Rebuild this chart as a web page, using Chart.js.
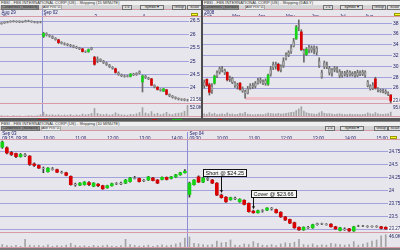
<!DOCTYPE html>
<html>
<head>
<meta charset="utf-8">
<script src="https://cdn.jsdelivr.net/npm/chart.js@4.4.0/dist/chart.umd.min.js"></script>
<style>
html, body { margin: 0; padding: 0; width: 400px; height: 250px; overflow: hidden; background: #e6e6ec; font-family: "Liberation Sans", Arial, sans-serif; }
.panel { position: absolute; background: #e6e6ec; overflow: hidden; }
.title { position: absolute; left: 0; right: 0; top: 0; height: 4px; background: #efefef; border-top: 1px solid #8a8a8a; font-size: 4px; line-height: 4px; color: #303030; padding-left: 1px; white-space: nowrap; }
.tools { position: absolute; left: 0; right: 0; top: 5px; height: 4px; background: #d4d4d6; border-bottom: 1px solid #d49aa4; }
.btn { position: absolute; top: 0; height: 3px; border: 0.5px solid #707070; background: #dedede; font-size: 3.5px; line-height: 3px; color: #202020; text-align: center; white-space: nowrap; overflow: hidden; }
.btn.dark { background: #959595; }
.btn.flat { background: #ececec; border-color: #a8a8a8; }
canvas { position: absolute; left: 0; }
.strip { position: absolute; left: 0; width: 400px; background: #575757; }
.mark { position: absolute; top: 1px; height: 1px; }
</style>
</head>
<body>

<div class="panel" style="left:0;top:0;width:201px;height:118px">
  <div class="title">FBSI - FBS INTERNATIONAL CORP (US) - Shipping (15 MINUTE)</div>
  <div class="tools">
    <span class="btn dark" style="left:1px;width:36px">Candlestick (Standard)</span>
    <span class="btn flat" style="left:42px;width:18px">Ave Pcs: 0.86</span>
    <span class="btn" style="left:122px;width:8px">1:4</span>
    <span class="btn" style="left:140px;width:22px">Symbol &#9662;</span>
    <span class="btn" style="left:172px;width:12px">Group</span>
    <span class="btn" style="left:187px;width:13px">Scale</span>
  </div>
  <canvas id="cLeft" width="201" height="113" style="top:4px"></canvas>
</div>

<div style="position:absolute;left:201px;top:0;width:2px;height:121px;background:#4c4c4c"></div>

<div class="panel" style="left:203px;top:0;width:197px;height:118px">
  <div class="title">FBSI - FBS INTERNATIONAL CORP (US) - Shipping (DAILY)</div>
  <div class="tools">
    <span class="btn dark" style="left:0px;width:34px">Candlestick (Standard)</span>
    <span class="btn flat" style="left:42px;width:18px">Ave Pcs: 0.86</span>
    <span class="btn" style="left:120px;width:8px">1:4</span>
    <span class="btn" style="left:137px;width:21px">Symbol &#9662;</span>
    <span class="btn" style="left:169px;width:12px">Group</span>
    <span class="btn" style="left:184px;width:13px">Scale</span>
  </div>
  <canvas id="cRight" width="197" height="113" style="top:4px"></canvas>
</div>

<div class="strip" style="top:118px;height:3px">
  <span class="mark" style="left:38px;width:10px;background:#b02020"></span>
  <span class="mark" style="left:152px;width:5px;background:#b02020"></span>
  <span class="mark" style="left:172px;width:10px;background:#20b020"></span>
  <span class="mark" style="left:218px;width:4px;background:#b02020"></span>
</div>

<div class="panel" style="left:0;top:121px;width:400px;height:129px">
  <div class="title">FBSI - FBS INTERNATIONAL CORP (US) - Shipping (10 MINUTE)</div>
  <div class="tools">
    <span class="btn dark" style="left:1px;width:37px">Candlestick (Standard)</span>
    <span class="btn flat" style="left:41px;width:18px">Ave Pcs: 0.86</span>
    <span class="btn" style="left:325px;width:8px">1:4</span>
    <span class="btn" style="left:340px;width:22px">Symbol &#9662;</span>
    <span class="btn" style="left:374px;width:12px">Group</span>
    <span class="btn" style="left:388px;width:12px">Scale</span>
  </div>
  <canvas id="cLower" width="400" height="122" style="top:5px"></canvas>
</div>

<script>
// ---- data: 15 minute chart (top left), bars are [open, high, low, close]
const leftTickIdx = [0, 14, 31, 47];
const leftTickText = [['Aug 29', '29'], ['Sep 02', '2'], ['', '3'], ['', '4']];
const leftSplit = 14;
const leftOHLC = [
  [26.40,26.44,26.38,26.43],[26.43,26.47,26.41,26.45],[26.45,26.49,26.43,26.47],[26.47,26.51,26.45,26.50],
  [26.50,26.52,26.46,26.48],[26.48,26.51,26.45,26.49],[26.49,26.51,26.44,26.46],[26.46,26.50,26.44,26.48],
  [26.48,26.53,26.46,26.51],[26.51,26.53,26.47,26.49],[26.49,26.51,26.45,26.47],[26.47,26.49,26.43,26.45],
  [26.45,26.48,26.42,26.46],[26.46,26.49,26.43,26.47],
  [25.92,26.08,25.88,26.04],[26.03,26.06,25.94,25.97],[25.97,25.99,25.90,25.93],[25.93,25.95,25.84,25.86],
  [25.86,25.88,25.78,25.80],[25.80,25.82,25.66,25.69],[25.70,25.73,25.64,25.66],[25.66,25.69,25.60,25.63],
  [25.63,25.66,25.57,25.60],[25.60,25.63,25.54,25.57],[25.57,25.60,25.50,25.53],[25.53,25.56,25.47,25.50],
  [25.50,25.52,25.43,25.46],[25.46,25.48,25.34,25.36],[25.36,25.39,25.32,25.35],[25.35,25.46,25.33,25.44],
  [25.44,25.52,25.42,25.50],
  [25.15,25.18,24.85,24.88],[25.02,25.16,24.94,25.08],[25.07,25.09,24.98,25.01],[25.00,25.03,24.91,24.94],
  [24.94,24.96,24.84,24.87],[24.86,24.88,24.76,24.79],[24.78,24.80,24.70,24.73],[24.72,24.74,24.55,24.58],
  [24.57,24.60,24.47,24.50],[24.50,24.52,24.42,24.45],[24.45,24.48,24.40,24.43],[24.43,24.48,24.41,24.46],
  [24.43,24.54,24.41,24.52],[24.52,24.55,24.46,24.49],[24.49,24.57,24.47,24.55],[24.55,24.64,24.53,24.61],
  [24.22,24.48,23.85,24.45],[24.44,24.47,24.35,24.38],[24.38,24.40,24.31,24.34],[24.34,24.36,24.08,24.10],
  [24.10,24.12,24.00,24.03],[24.03,24.05,23.92,23.94],[23.94,23.97,23.88,23.91],[23.88,23.98,23.86,23.97],
  [23.93,23.95,23.74,23.76],[23.76,23.78,23.67,23.70],[23.70,23.72,23.62,23.65],[23.65,23.67,23.58,23.61],
  [23.61,23.63,23.55,23.58],[23.57,23.60,23.53,23.58],[23.58,23.60,23.52,23.55],[23.55,23.58,23.51,23.56]
];
const leftVol = [
  6,4,5,3,6,4,5,3,4,6,5,4,6,10,
  22,12,9,10,8,10,7,9,8,11,7,9,8,13,10,12,16,
  38,16,12,11,13,9,11,19,13,10,9,8,12,11,14,20,
  42,18,14,24,13,17,11,14,21,13,11,15,17,19,26,52
];

// ---- data: daily chart (top right)
const rightTickIdx = [0, 11, 21, 32, 42, 53, 63];
const rightTickText = [['2008', 'Feb'], ['', 'Mar'], ['', 'Apr'], ['', 'May'], ['', 'Jun'], ['', 'Jul'], ['', 'Aug']];
const rightOHLC = [
  [27.1,27.5,26.0,26.4],[27.6,27.7,26.3,26.5],[26.6,26.9,24.7,25.2],[25.5,26.8,25.0,26.3],[26.9,28.4,26.7,28.2],
  [28.2,29.2,27.9,28.9],[28.9,29.9,28.6,29.6],[29.6,30.0,29.0,29.3],[29.3,29.5,28.5,28.8],[28.9,29.0,27.3,27.5],
  [27.6,28.2,27.2,27.9],[27.8,28.0,26.8,27.0],[27.0,27.2,26.1,26.4],[26.4,26.9,25.8,26.6],[26.9,27.0,25.6,25.8],
  [25.9,26.2,25.2,25.4],[25.4,25.6,24.1,24.9],[25.0,26.3,24.9,25.9],[26.0,26.8,25.8,26.5],[26.5,26.9,25.9,26.2],
  [26.3,27.2,26.0,26.9],[26.9,27.8,26.7,27.5],[27.5,27.9,26.9,27.2],[27.2,27.5,26.6,26.8],[26.8,27.7,26.5,27.4],
  [26.7,28.6,26.5,28.4],[28.5,30.0,28.2,29.4],[29.7,30.8,29.4,30.4],[30.4,30.8,29.5,30.0],[30.4,30.6,29.1,29.3],
  [29.3,30.3,29.0,30.0],[30.1,31.6,29.8,31.0],[31.4,32.5,31.2,32.1],[32.1,32.9,31.8,32.6],[32.7,34.0,32.4,33.5],
  [33.7,35.2,33.6,34.6],[35.1,37.6,35.0,37.3],[37.3,38.6,36.6,37.6],[36.4,36.8,32.9,33.1],[33.0,33.2,30.8,32.2],
  [32.2,33.5,32.0,33.2],[33.0,33.9,32.5,33.6],[33.5,33.8,32.6,33.0],[33.2,33.8,32.3,33.6],[33.4,33.7,32.1,32.6],
  [31.0,31.6,29.8,30.1],[28.9,29.3,27.8,28.0],[29.9,31.0,29.6,30.7],[30.3,30.8,29.6,29.9],[29.7,30.0,28.4,28.8],
  [28.7,29.6,28.2,29.4],[29.4,30.0,29.0,29.7],[29.6,29.9,28.9,29.2],[29.1,29.4,27.9,28.3],[28.3,29.1,28.0,28.8],
  [28.8,29.1,28.2,28.5],[28.5,29.3,28.1,29.0],[29.0,29.2,28.2,28.4],[28.4,29.0,28.2,28.7],[28.7,29.1,28.0,28.3],
  [28.3,29.3,28.1,28.9],[28.9,29.2,28.3,28.5],[28.5,29.3,28.3,29.0],[29.0,29.2,28.0,28.3],[27.2,27.4,26.2,26.4],
  [26.4,26.6,25.6,25.8],[25.9,27.0,25.7,26.6],[27.7,28.0,25.8,26.0],[25.9,26.1,25.3,25.6],[25.6,25.8,25.2,25.4],
  [25.4,25.8,25.1,25.5],[25.4,25.7,24.9,25.1],[25.1,25.3,24.6,24.8],[24.7,24.8,23.2,23.6]
];
const rightVol = [
  30,25,40,28,35,22,26,30,24,38, 26,28,22,25,34,30,42,26,24,20,
  22,25,24,23,28,36,32,30,28,34, 26,30,35,38,42,45,60,75,95,55,
  40,34,30,28,26,38,50,35,30,32, 26,24,28,30,26,24,22,26,24,23,
  25,22,24,26,38,30,28,40,30,26, 24,28,30,45
];
const rightSupport = 24.05;
const rightSupportFrom = 16;

// ---- data: 10 minute chart (bottom)
const lowerTickIdx = [0, 3, 9, 16, 23, 30, 37, 41, 47, 54, 61, 68, 75, 82];
const lowerTickText = [['Sep 03', '09:15'], ['', '09:30'], ['', '10:00'], ['', '11:00'], ['', '12:00'], ['', '13:00'], ['', '14:00'],
  ['Sep 04', '09:30'], ['', '10:00'], ['', '11:00'], ['', '12:00'], ['', '13:00'], ['', '14:00'], ['', '15:00']];
const lowerSplit = 41;
const lowerOHLC = [
  [24.84,24.96,24.82,24.94],[24.83,24.85,24.71,24.73],[24.74,24.76,24.68,24.70],[24.72,24.73,24.64,24.66],
  [24.66,24.72,24.65,24.70],[24.70,24.72,24.66,24.68],[24.67,24.68,24.49,24.51],[24.52,24.54,24.47,24.49],
  [24.49,24.50,24.43,24.44],[24.44,24.46,24.35,24.43],[24.37,24.45,24.36,24.44],[24.43,24.45,24.40,24.41],
  [24.41,24.42,24.35,24.36],[24.36,24.38,24.34,24.35],[24.35,24.36,24.29,24.30],[24.28,24.29,24.11,24.12],
  [24.13,24.15,24.09,24.11],[24.11,24.16,24.10,24.15],[24.12,24.18,24.11,24.17],[24.16,24.18,24.10,24.12],
  [24.09,24.16,24.08,24.15],[24.13,24.14,24.08,24.10],[24.10,24.11,24.03,24.04],[24.06,24.11,24.05,24.10],
  [24.10,24.15,24.09,24.14],[24.14,24.16,24.12,24.13],[24.13,24.17,24.12,24.15],[24.15,24.22,24.14,24.21],
  [24.18,24.26,24.17,24.25],[24.25,24.28,24.23,24.24],[24.24,24.25,24.17,24.18],[24.19,24.22,24.18,24.21],
  [24.21,24.28,24.20,24.27],[24.25,24.26,24.19,24.20],[24.21,24.22,24.14,24.15],[24.22,24.27,24.21,24.26],
  [24.26,24.27,24.21,24.22],[24.24,24.28,24.23,24.27],[24.27,24.32,24.26,24.31],[24.31,24.36,24.30,24.35],
  [24.35,24.41,24.34,24.38],
  [23.93,24.17,23.88,24.15],[24.12,24.22,24.11,24.21],[24.27,24.29,24.16,24.17],[24.17,24.26,24.16,24.25],
  [24.24,24.26,24.20,24.22],[24.21,24.22,24.14,24.15],[24.15,24.16,23.91,23.92],[23.92,23.94,23.86,23.87],
  [23.88,23.89,23.78,23.79],[23.83,23.88,23.82,23.87],[23.86,23.88,23.83,23.84],[23.79,23.85,23.78,23.84],
  [23.82,23.83,23.73,23.74],[23.76,23.77,23.59,23.60],[23.61,23.63,23.57,23.58],[23.58,23.63,23.57,23.62],
  [23.62,23.64,23.59,23.61],[23.63,23.68,23.62,23.67],[23.67,23.68,23.63,23.65],[23.64,23.65,23.57,23.58],
  [23.59,23.60,23.49,23.50],[23.50,23.51,23.43,23.44],[23.45,23.46,23.37,23.38],[23.39,23.40,23.28,23.29],
  [23.30,23.31,23.24,23.25],[23.25,23.31,23.24,23.30],[23.30,23.32,23.28,23.29],[23.29,23.36,23.28,23.35],
  [23.35,23.38,23.34,23.37],[23.37,23.38,23.35,23.36],[23.36,23.37,23.34,23.35],[23.36,23.37,23.30,23.31],
  [23.31,23.32,23.26,23.27],[23.24,23.30,23.23,23.29],[23.27,23.29,23.24,23.25],[23.27,23.28,23.22,23.23],
  [23.23,23.32,23.22,23.31],[23.32,23.34,23.31,23.33],[23.33,23.34,23.31,23.32],[23.31,23.33,23.30,23.32],
  [23.32,23.33,23.30,23.31],[23.31,23.33,23.30,23.32],[23.31,23.32,23.27,23.28],[23.30,23.31,23.26,23.27]
];
const lowerVol = [
  12,8,7,9,6,30,10,8,9,7, 11,6,8,7,10,16,9,7,8,6, 9,7,8,10,7,6,8,30,12,9, 7,8,10,6,9,11,8,10,14,18, 34,
  38,16,14,12,10,12,24,18,20,28, 10,9,14,12,22,16,10,9,12,8, 14,18,16,20,30,12,10,14,9,11,
  10,16,14,12,10,12,22,10,14,18, 24,28,42,46
];
const noteText = ['Short @ $24.25', 'Cover @ $23.66'];
const noteIdx = [48, 55];

// ---- drawing
const FONT = '"Liberation Sans", Arial, sans-serif';
const FILL = { up: '#14d414', dn: '#d80000', flat: '#d0d0d0' };
const PINK = '#d89aa6';

const decor = {
  id: 'decor',
  beforeDatasetsDraw(chart, args, o) {
    const { ctx, chartArea: a, scales } = chart;
    if (o.split) {
      const x = Math.round((scales.x.getPixelForValue(o.split) + scales.x.getPixelForValue(o.split - 1)) / 2) + 0.5;
      ctx.save();
      ctx.strokeStyle = '#8e8ed4';
      ctx.lineWidth = 1;
      ctx.beginPath();
      ctx.moveTo(x, a.top - 8);
      ctx.lineTo(x, a.bottom);
      ctx.stroke();
      ctx.restore();
    }
  },
  afterDraw(chart, args, o) {
    const { ctx, chartArea: a, scales } = chart;
    const y = scales.y, v = scales.v;
    ctx.save();
    // pink frame lines
    ctx.strokeStyle = PINK;
    ctx.lineWidth = 1;
    [a.top, y.bottom, a.bottom].forEach(p => {
      const yy = Math.round(p) - 0.5;
      ctx.beginPath();
      ctx.moveTo(0, yy);
      ctx.lineTo(chart.width, yy);
      ctx.stroke();
    });
    // yellow tag above the price axis
    ctx.fillStyle = '#ffff33';
    ctx.strokeStyle = '#9a9a00';
    ctx.fillRect(a.right + 2, a.top - 4, 7, 3);
    ctx.strokeRect(a.right + 2.5, a.top - 3.5, 6, 2);
    // last price tag
    const last = o.ohlc[o.ohlc.length - 1][3];
    const ly = y.getPixelForValue(last);
    ctx.fillStyle = '#f6f6f6';
    ctx.fillRect(a.right, ly - 2.5, chart.width - a.right, 5);
    ctx.fillStyle = '#1c1c5c';
    ctx.font = '4.5px ' + FONT;
    ctx.textBaseline = 'middle';
    ctx.fillText(last.toFixed(2), a.right + 1, ly);
    // volume label
    ctx.textBaseline = 'top';
    ctx.fillText(Math.max(...o.vol).toFixed(1) + 'K', a.right + 1, v.top + 1.5);
    // trade notes
    (o.notes || []).forEach((n, i) => {
      const b = o.ohlc[n.idx];
      const tx = Math.round(scales.x.getPixelForValue(n.idx)) + 0.5;
      const ty = y.getPixelForValue(b[1]) - 1;
      const off = o.noteOffsets[i];
      ctx.font = '5.5px ' + FONT;
      const w = Math.ceil(ctx.measureText(n.text).width) + 4;
      const bx = Math.round(tx + off[0]) + 0.5;
      const by = Math.round(ty + off[1]) - 7 + 0.5;
      ctx.fillStyle = '#f7f7f7';
      ctx.fillRect(bx, by, w, 7);
      ctx.strokeStyle = '#111';
      ctx.lineWidth = 1;
      ctx.strokeRect(bx, by, w, 7);
      ctx.fillStyle = '#111';
      ctx.textBaseline = 'middle';
      ctx.fillText(n.text, bx + 2, by + 3.8);
      ctx.beginPath();
      ctx.moveTo(tx, by + 7);
      ctx.lineTo(tx, ty - 2);
      ctx.stroke();
      ctx.beginPath();
      ctx.moveTo(tx - 1.5, ty - 3);
      ctx.lineTo(tx + 1.5, ty - 3);
      ctx.lineTo(tx, ty);
      ctx.closePath();
      ctx.fill();
    });
    ctx.restore();
  }
};

function kindOf(b, thr) {
  const d = b[3] - b[0];
  if (Math.abs(d) < thr) return 'flat';
  return d > 0 ? 'up' : 'dn';
}

function makePanel(id, p) {
  const kinds = p.ohlc.map(b => kindOf(b, p.thr));
  const datasets = [
    {
      type: 'bar', data: p.ohlc.map(b => [b[0], b[3]]), yAxisID: 'y', grouped: false, order: 0,
      barThickness: p.bodyW, backgroundColor: kinds.map(k => FILL[k]), borderColor: '#858585',
      borderWidth: kinds.map(k => k === 'flat' ? 1 : 0), borderSkipped: false
    },
    {
      type: 'bar', data: p.ohlc.map(b => [b[2], b[1]]), yAxisID: 'y', grouped: false, order: 1,
      barThickness: 1, backgroundColor: p.wick
    },
    {
      type: 'bar', data: p.vol, yAxisID: 'v', grouped: false, order: 2,
      barThickness: 1, backgroundColor: '#a4a4a4'
    }
  ].concat(p.extra || []);

  new Chart(document.getElementById(id), {
    type: 'bar',
    data: { labels: p.ohlc.map((b, i) => i), datasets },
    options: {
      responsive: false,
      animation: false,
      events: [],
      layout: { padding: 0 },
      plugins: {
        legend: { display: false },
        tooltip: { enabled: false },
        decor: { ohlc: p.ohlc, vol: p.vol, split: p.split, notes: p.notes, noteOffsets: [[-19, -17], [-3, -12]] }
      },
      scales: {
        x: {
          type: 'category', position: 'top', offset: true,
          grid: { display: false, drawTicks: false }, border: { display: false },
          ticks: {
            autoSkip: false, maxRotation: 0, minRotation: 0, align: 'start', padding: p.xPad,
            color: '#20206c', font: { size: 4.5, family: FONT, lineHeight: 1 },
            callback: (val, i) => {
              const k = p.tickIdx.indexOf(i);
              return k < 0 ? '' : p.tickText[k];
            }
          },
          afterFit: s => { s.height = p.xAxisH; s.paddingLeft = 0; s.paddingRight = 0; }
        },
        y: {
          position: 'right', stack: 'panel', stackWeight: p.pw, min: p.yMin, max: p.yMax,
          grid: { color: '#a2a2dc', drawTicks: false }, border: { display: false },
          ticks: {
            stepSize: p.step, includeBounds: false, autoSkip: false, padding: 1,
            color: '#20206c', font: { size: p.tickFont, family: FONT },
            callback: v => String(+v.toFixed(2))
          },
          afterBuildTicks: s => { s.ticks = s.ticks.filter(t => t.value >= p.tickFloor - 1e-9); },
          afterFit: s => { s.width = p.axisW; s.paddingTop = 0; s.paddingBottom = 0; }
        },
        v: {
          position: 'right', stack: 'panel', stackWeight: p.vw, min: 0, max: p.volMax,
          grid: { display: false }, border: { display: false }, ticks: { display: false },
          afterFit: s => { s.width = p.axisW; s.paddingTop = 0; s.paddingBottom = 0; }
        }
      }
    },
    plugins: [decor]
  });
}

makePanel('cLeft', {
  ohlc: leftOHLC, vol: leftVol, tickIdx: leftTickIdx, tickText: leftTickText, split: leftSplit,
  yMin: 23.40, yMax: 26.65, step: 0.5, tickFloor: 24, tickFont: 5, volMax: 58,
  thr: 0.085, bodyW: 2, wick: '#6a6a6a', axisW: 12, xAxisH: 13, xPad: -2.5, pw: 87, vw: 13
});

makePanel('cRight', {
  ohlc: rightOHLC, vol: rightVol, tickIdx: rightTickIdx, tickText: rightTickText,
  yMin: 23.04, yMax: 39.15, step: 2, tickFloor: 26, tickFont: 5, volMax: 120,
  thr: 1.0, bodyW: 2, wick: '#6a6a6a', axisW: 8, xAxisH: 13, xPad: -2.5, pw: 87, vw: 13,
  extra: [{
    type: 'line', yAxisID: 'y', order: 3, data: rightOHLC.map((b, i) => i >= rightSupportFrom ? rightSupport : null),
    borderColor: '#efc2cb', borderWidth: 3, pointRadius: 0, spanGaps: false
  }]
});

makePanel('cLower', {
  ohlc: lowerOHLC, vol: lowerVol, tickIdx: lowerTickIdx, tickText: lowerTickText, split: lowerSplit,
  yMin: 23.19, yMax: 24.98, step: 0.25, tickFloor: 23.25, tickFont: 4.5, volMax: 52,
  thr: 0.025, bodyW: 3, wick: '#3c3c3c', axisW: 12, xAxisH: 14, xPad: -1, pw: 93, vw: 15,
  notes: noteText.map((t, i) => ({ text: t, idx: noteIdx[i] }))
});
</script>
<div style="position:absolute;left:0;top:248px;width:400px;height:2px;background:#7a7a7a"></div>
</body>
</html>
